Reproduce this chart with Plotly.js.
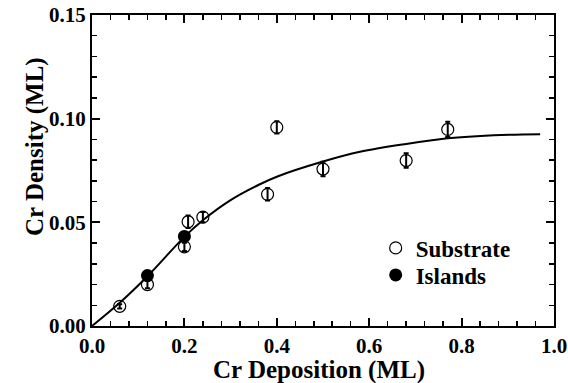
<!DOCTYPE html>
<html>
<head>
<meta charset="utf-8">
<script src="https://cdn.plot.ly/plotly-3.0.1.min.js"></script>
<style>html,body{margin:0;padding:0;background:#fff;}#chart{width:568px;height:383px;}</style>
</head>
<body>
<div id="chart"></div>
<script>
// Substrate data
const substrateX = [0.06, 0.12, 0.20, 0.208, 0.24, 0.38, 0.40, 0.50, 0.68, 0.77];
const substrateY = [0.0095, 0.0200, 0.0382, 0.0503, 0.0525, 0.0635, 0.0958, 0.0757, 0.0798, 0.0948];
const substrateErr = [0.0010, 0.0018, 0.0020, 0.0030, 0.0025, 0.0030, 0.0030, 0.0035, 0.0035, 0.0037];
// Islands data
const islandsX = [0.12, 0.20];
const islandsY = [0.0243, 0.0432];
const islandsErr = [0.0012, 0.0015];
// Fit curve
const fitX = [0, 0.06, 0.12, 0.20, 0.24, 0.30, 0.36, 0.40, 0.50, 0.58, 0.68, 0.77, 0.87, 0.97];
const fitY = [0, 0.0112, 0.0240, 0.0430, 0.0510, 0.0607, 0.0680, 0.0720, 0.0793, 0.0840, 0.0878, 0.0905, 0.0920, 0.0925];
// Axis titles
const xTitle = 'Cr Deposition (ML)';
const yTitle = 'Cr Density (ML)';

const serif = '"Times New Roman", "Liberation Serif", "DejaVu Serif", serif';

const traces = [
  {
    x: fitX, y: fitY, mode: 'lines', type: 'scatter',
    line: {color: '#000', width: 2, shape: 'spline'},
    showlegend: false, hoverinfo: 'skip'
  },
  {
    x: substrateX, y: substrateY, mode: 'markers', type: 'scatter', name: 'Substrate',
    legend: 'legend',
    marker: {symbol: 'circle-open', size: 12, color: '#000', line: {width: 1.2, color: '#000'}},
    error_y: {type: 'data', array: substrateErr, visible: true, color: '#000', thickness: 2, width: 2.5}
  },
  {
    x: islandsX, y: islandsY, mode: 'markers', type: 'scatter', name: 'Islands',
    legend: 'legend2',
    marker: {symbol: 'circle', size: 13, color: '#000'},
    error_y: {type: 'data', array: islandsErr, visible: true, color: '#000', thickness: 2, width: 2.5}
  }
];

const axisCommon = {
  showline: true, linecolor: '#000', linewidth: 2, mirror: 'ticks',
  ticks: 'inside', ticklen: 8, tickwidth: 2, tickcolor: '#000',
  showgrid: false, zeroline: false,
  tickfont: {family: serif, size: 21, color: '#000', weight: 'bold'}
};

const titleFont = {family: serif, size: 25, color: '#000', weight: 'bold'};
const legendFont = {family: serif, size: 23, color: '#000', weight: 'bold'};

const layout = {
  width: 568, height: 383,
  font: {family: serif},
  margin: {l: 92, r: 14, t: 15, b: 57},
  paper_bgcolor: '#fff', plot_bgcolor: '#fff',
  showlegend: true,
  legend: {
    x: 0.614, y: 0.251, xanchor: 'left', yanchor: 'middle',
    bgcolor: 'rgba(0,0,0,0)', borderwidth: 0, font: legendFont, itemwidth: 30
  },
  legend2: {
    x: 0.614, y: 0.164, xanchor: 'left', yanchor: 'middle',
    bgcolor: 'rgba(0,0,0,0)', borderwidth: 0, font: legendFont, itemwidth: 30
  },
  xaxis: Object.assign({}, axisCommon, {
    range: [0, 1.0], dtick: 0.2, tickformat: '.1f', ticklabelstandoff: 0,
    minor: {dtick: 0.04, ticks: 'inside', ticklen: 5, tickwidth: 1.5, tickcolor: '#000'}
  }),
  yaxis: Object.assign({}, axisCommon, {
    range: [0, 0.15], dtick: 0.05, tickformat: '.2f',
    minor: {dtick: 0.01, ticks: 'inside', ticklen: 5, tickwidth: 1.5, tickcolor: '#000'}
  }),
  annotations: [
    {text: xTitle, xref: 'paper', yref: 'paper', x: 0.491, y: -0.142,
     xanchor: 'center', yanchor: 'middle', showarrow: false, font: titleFont},
    {text: yTitle, xref: 'paper', yref: 'paper', x: -0.123, y: 0.576, textangle: -90,
     xanchor: 'center', yanchor: 'middle', showarrow: false, font: titleFont}
  ]
};

Plotly.newPlot('chart', traces, layout, {displayModeBar: false, staticPlot: true});
</script>
</body>
</html>
